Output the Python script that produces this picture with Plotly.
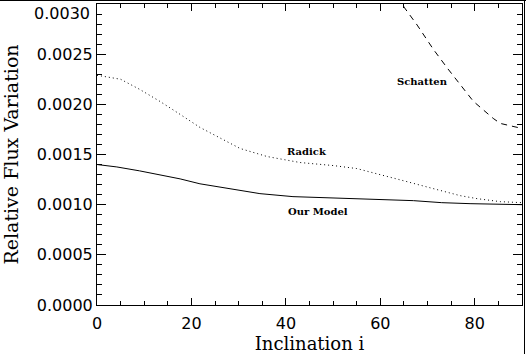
import plotly.graph_objects as go

# --- données --------------------------------------------------------------
incl_model = [0, 4.2, 9, 17.6, 21.8, 34.5, 41.5, 55, 67, 73, 79, 90]
flux_model = [0.00140, 0.001376, 0.001337, 0.001257, 0.001208, 0.00111,
              0.00108, 0.00106, 0.00104, 0.00102, 0.00101, 0.00100]

incl_radick = [0, 5, 9, 13.3, 17.6, 21.8, 30.3, 36, 43, 50, 55, 59.3,
               64.8, 71.2, 76.9, 80.5, 85.4, 90]
flux_radick = [0.00229, 0.00225, 0.00215, 0.00203, 0.00190, 0.00177, 0.00156,
               0.00148, 0.00142, 0.00139, 0.00136, 0.00131, 0.00124, 0.00116,
               0.00109, 0.00106, 0.00103, 0.00102]

incl_schatten = [64, 65, 67.8, 71.2, 74.2, 76.3, 79.7, 83.9, 85.4, 88.1, 90]
flux_schatten = [0.00308, 0.00297, 0.00279, 0.00255, 0.00236, 0.00223, 0.00203,
                 0.00186, 0.00181, 0.00178, 0.00176]

yticks = [0.0, 0.0005, 0.0010, 0.0015, 0.0020, 0.0025]
yticktext = ["0.0000", "0.0005", "0.0010", "0.0015", "0.0020", "0.0025"]

labels = [("Schatten", 68.9, 0.00223), ("Radick", 44.5, 0.001525),
          ("Our Model", 46.8, 0.00093)]

W, H = 526, 354
ML, MR, MT, MB = 97, 4, 4, 49

fig = go.Figure()
fig.add_trace(go.Scatter(x=incl_model, y=flux_model, mode="lines",
                         line=dict(color="black", width=1), showlegend=False))
fig.add_trace(go.Scatter(x=incl_radick, y=flux_radick, mode="lines",
                         line=dict(color="black", width=1, dash="1px,3px"),
                         showlegend=False))
fig.add_trace(go.Scatter(x=incl_schatten, y=flux_schatten, mode="lines",
                         line=dict(color="black", width=1, dash="6px,5px"),
                         showlegend=False))

for txt, x, y in labels:
    fig.add_annotation(x=x, y=y, text=f"<b>{txt}</b>", showarrow=False,
                       font=dict(family="DejaVu Serif", size=10, color="black"))

# étiquette du haut décalée vers le bas (comme sur l'original)
fig.add_annotation(x=0, y=0.0030, xref="paper", yref="y", text="0.0030",
                   showarrow=False, xanchor="right", yanchor="top", xshift=-5, yshift=2,
                   font=dict(family="DejaVu Sans", size=16, color="black"))

axis_common = dict(showline=True, linecolor="black", linewidth=1, mirror="allticks",
                   ticks="inside", tickcolor="black", tickwidth=1, showgrid=False,
                   zeroline=False, automargin=False,
                   tickfont=dict(family="DejaVu Sans", size=16, color="black"))

fig.update_xaxes(range=[0, 90], tickvals=[0, 20, 40, 60, 80], ticklen=7,
                 ticklabelstandoff=4,
                 minor=dict(dtick=5, ticklen=4, ticks="inside", tickcolor="black"),
                 title=dict(text="Inclination i", standoff=2,
                            font=dict(family="DejaVu Serif", size=18, color="black")),
                 **axis_common)
fig.update_yaxes(range=[0, 0.0030], tickvals=yticks, ticktext=yticktext, ticklen=9,
                 minor=dict(dtick=0.0001, ticklen=5, ticks="inside", tickcolor="black"),
                 title=dict(text="Relative Flux Variation", standoff=14,
                            font=dict(family="DejaVu Serif", size=19, color="black")),
                 **axis_common)

# cadre de l'image (haut et droite)
pw, ph = W - ML - MR, H - MT - MB
fig.add_shape(type="line", xref="paper", yref="paper",
              x0=-ML / pw, x1=(W - ML) / pw, y0=(ph + MT - 0.5) / ph, y1=(ph + MT - 0.5) / ph,
              line=dict(color="black", width=1))
fig.add_shape(type="line", xref="paper", yref="paper",
              x0=(W - ML - 1.5) / pw, x1=(W - ML - 1.5) / pw, y0=-MB / ph, y1=(ph + MT) / ph,
              line=dict(color="black", width=1))

fig.update_layout(width=W, height=H, margin=dict(l=ML, r=MR, t=MT, b=MB),
                  plot_bgcolor="white", paper_bgcolor="white")

fig.write_html("out.html", config={"displayModeBar": False},
               post_script="document.body.style.margin='0';document.body.style.overflow='hidden';")
